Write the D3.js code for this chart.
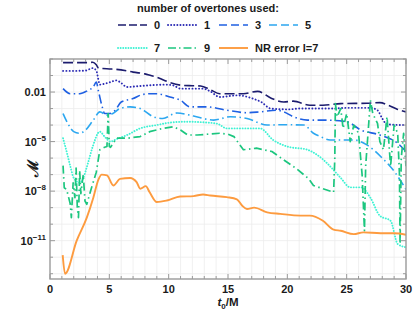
<!DOCTYPE html>
<html>
<head>
<meta charset="utf-8">
<script src="https://d3js.org/d3.v7.min.js"></script>
<style>
  body { margin: 0; background: #fff; }
  text { font-family: "Liberation Sans", Arial, sans-serif; font-weight: bold; fill: #1a1a1a; }
</style>
</head>
<body>
<svg id="chart" width="415" height="316"></svg>
<script>
// ---- data: [t0/M, mismatch] ----
var overtones0 = [[1.1,0.60],[2,0.60],[3,0.60],[3.6,0.63],[3.9,0.45],[4.1,0.28],[5,0.25],[5.5,0.24],[6.5,0.19],[7,0.16],[8,0.126],[8.5,0.10],[9,0.079],[9.5,0.056],[10,0.040],[11,0.026],[12,0.024],[12.7,0.023],[13.5,0.014],[14.3,7.9e-3],[15.2,7.9e-3],[16.3,7.9e-3],[17.5,1.1e-2],[18.6,4.4e-3],[19.7,2.5e-3],[20.5,2.8e-3],[21.9,1.6e-3],[23,1.6e-3],[24.5,2.0e-3],[26.7,2.1e-3],[27.8,2.3e-3],[28.5,1.6e-3],[29.3,8.9e-4],[30,6.3e-4]];
var overtones1 = [[1.1,0.19],[2,0.19],[3,0.20],[3.6,0.28],[3.9,0.20],[4.2,0.028],[4.6,0.032],[5.1,0.040],[5.6,0.051],[6,0.035],[6.5,0.020],[7.2,0.022],[8.2,0.025],[9.8,0.028],[10.4,0.025],[11,0.016],[12.9,0.016],[13.5,0.011],[14.3,5.0e-3],[15.8,6.3e-3],[17.1,4.0e-3],[17.8,2.5e-3],[18.6,1.0e-3],[20,8.9e-4],[21.1,1.0e-3],[23.6,1.0e-3],[25,1.1e-3],[27,1.1e-3],[27.6,7.9e-4],[28,2.5e-4],[28.4,1.1e-4],[30,1.0e-4]];
var overtones3 = [[1.1,0.016],[1.7,7.9e-3],[2.5,7.9e-3],[3.2,1.26e-2],[3.65,0.020],[3.9,0.040],[4.1,0.010],[4.4,1.26e-3],[4.6,5.0e-4],[5,5.0e-4],[5.5,7.9e-4],[6,2.5e-3],[7,4.0e-3],[7.8,7.1e-3],[8.4,7.9e-3],[9,7.9e-3],[10.1,5.0e-3],[11,3.2e-3],[11.8,1.26e-3],[13.2,1.26e-3],[14.9,7.9e-4],[16.6,5.6e-4],[17.7,6.3e-4],[19.1,7.9e-4],[19.7,6.3e-4],[20.5,3.2e-4],[21.7,2.0e-4],[23.1,2.0e-4],[25,1.6e-4],[26.2,5.0e-5],[27.8,2.5e-5],[29.3,7.9e-6],[30,2.5e-6]];
var overtones5 = [[1.1,5.0e-4],[1.5,1.26e-4],[2,4.0e-5],[2.5,3.2e-5],[3,5.0e-5],[3.65,2.0e-4],[4.2,6.3e-4],[4.8,4.0e-4],[5.3,5.0e-4],[5.9,1.0e-3],[6.75,1.26e-3],[7.6,1.0e-3],[8.7,3.2e-4],[9.5,2.5e-4],[10.7,5.4e-4],[12.1,3.5e-4],[13.8,2.0e-4],[15.2,3.2e-4],[16.6,2.5e-4],[18.3,1.0e-4],[19.7,1.05e-4],[21.4,1.0e-4],[22.2,3.2e-5],[22.8,2.0e-5],[23.6,1.26e-5],[25.6,1.26e-5],[26.7,6.3e-6],[28,1.0e-6],[29,1.6e-7],[30,1.26e-8]];
var overtones7 = [[1.1,1.6e-5],[1.4,2.5e-6],[1.7,3.5e-7],[2,6.3e-8],[2.5,3.2e-8],[2.8,6.3e-8],[3.2,5.0e-7],[3.6,5.0e-6],[4.2,4.0e-5],[4.6,2.0e-5],[5.1,1.0e-5],[5.6,1.4e-5],[6.5,2.5e-5],[7.6,6.3e-5],[9,1.0e-4],[10.1,1.4e-4],[11.5,1.6e-4],[12.7,1.5e-4],[14.1,1.2e-4],[14.9,6.3e-5],[16.6,6.3e-5],[17.7,6.3e-5],[18.8,1.26e-5],[20,5.0e-6],[21.7,3.2e-6],[22.5,1.6e-6],[23.4,4.5e-7],[24.5,6.3e-8],[25.3,1.7e-8],[26.2,1.7e-8],[27,4.0e-9],[27.8,3.2e-10],[28.7,1.6e-10],[29.3,6.3e-12],[30,4.0e-12]];
var overtones9 = [[1.1,3.5e-7],[1.2,1.6e-8],[1.4,1.26e-8],[1.7,1.8e-9],[1.8,2.5e-10],[1.95,3.2e-8],[2.1,4.0e-9],[2.2,2.5e-7],[2.3,1.0e-9],[2.4,2.5e-10],[2.5,1.8e-7],[2.6,7.1e-9],[2.8,1.0e-7],[2.95,2.5e-9],[3.1,1.6e-9],[3.5,1.6e-8],[3.9,1.4e-7],[4.2,3.2e-6],[4.6,4.5e-6],[4.8,5.0e-6],[4.9,5.0e-4],[5,5.0e-6],[5.1,4.5e-6],[5.6,1.6e-5],[6.5,1.6e-5],[7.6,2.0e-5],[8.4,4.0e-5],[9.5,6.3e-5],[10.4,7.9e-5],[11,5.0e-5],[11.6,2.5e-5],[12.4,2.5e-5],[14.3,3.2e-5],[15,2.8e-5],[15.5,2.0e-5],[15.9,7.9e-6],[16.3,3.2e-6],[17.4,4.0e-6],[18.7,2.5e-6],[19.4,1.1e-6],[20.8,2.2e-7],[21.8,5.6e-8],[22.2,2.2e-8],[23.9,8.5e-9],[24,1.0e-6],[24.05,2.0e-3],[24.2,3.2e-4],[24.5,1.0e-3],[24.7,6.3e-5],[25,5.0e-4],[25.3,1.0e-5],[25.6,1.0e-4],[26,3.2e-5],[26.3,1.0e-7],[26.5,4.0e-11],[26.6,3.2e-7],[26.8,3.2e-5],[27,3.2e-3],[27.2,5.0e-4],[27.6,1.26e-4],[27.8,1.0e-5],[28.1,3.2e-6],[28.4,3.2e-4],[28.7,3.2e-7],[29,1.0e-4],[29.3,3.2e-5],[29.45,1.0e-7],[29.5,6.3e-12],[29.6,1.0e-6],[29.8,3.2e-5],[30,3.2e-7]];
var nrError = [[1.07,1.35e-12],[1.27,1.0e-13],[2.25,1.0e-11],[3.1,2.5e-10],[3.65,4.0e-9],[4.08,5.0e-8],[4.36,1.0e-7],[4.8,8.9e-8],[5.34,2.2e-8],[5.9,5.5e-8],[6.75,6.3e-8],[7.3,3.5e-8],[7.6,1.4e-8],[8.07,2.0e-8],[8.4,8.5e-9],[9,2.2e-9],[9.85,2.7e-9],[10.97,4.7e-9],[12.1,5.0e-9],[12.9,6.3e-9],[13.5,5.4e-9],[14.9,4.3e-9],[15.75,3.2e-9],[16.2,1.3e-9],[16.6,8.3e-10],[17.2,1.0e-9],[18.3,5.2e-10],[19.4,4.2e-10],[21.1,3.3e-10],[21.9,3.3e-10],[23,1.6e-10],[23.9,4.7e-11],[24.5,4.0e-11],[25.6,2.5e-11],[26.4,3.2e-11],[27.85,2.8e-11],[29,2.8e-11],[30,2.3e-11]];

var legendLabels = ["0", "1", "3", "5", "7", "9", "NR error l=7"];
var xTicks = [0, 5, 10, 15, 20, 25, 30];
var yTickLabels = [[1e-2, "0.01"], [1e-5, "10", "\u22125"], [1e-8, "10", "\u22128"], [1e-11, "10", "\u221211"]];

/*
	Series styles
*/
var series = [
	{ data: overtones0, color: "#1c1c6e", dash: "10,4",          cap: "butt",  width: 1.6, curve: d3.curveMonotoneX, legend: "8,3" },
	{ data: overtones1, color: "#2a2ab4", dash: "0.1,3.2",       cap: "round", width: 1.9, curve: d3.curveMonotoneX, legend: "0.1,3" },
	{ data: overtones3, color: "#1f60e2", dash: "9,3.5,1.5,3.5", cap: "butt",  width: 1.6, curve: d3.curveMonotoneX, legend: "8,4" },
	{ data: overtones5, color: "#2ca7f0", dash: "9,3.5,1.5,3.5", cap: "butt",  width: 1.6, curve: d3.curveMonotoneX, legend: "8,4" },
	{ data: overtones7, color: "#3ff2d4", dash: "0.1,2.6",       cap: "round", width: 1.9, curve: d3.curveMonotoneX, legend: "0.1,2.5" },
	{ data: overtones9, color: "#1cc67f", dash: "8,3.5,1.5,3.5", cap: "butt",  width: 1.7, curve: d3.curveLinear,    legend: "8,3,1.5,3" },
	{ data: nrError,    color: "#fd9b3f", dash: null,            cap: "butt",  width: 1.9, curve: d3.curveMonotoneX, legend: null }
];

var svg = d3.select("#chart");
var plotL = 50, plotR = 406, plotT = 59, plotB = 279;

var x = d3.scaleLinear().domain([0, 30]).range([plotL, plotR]);
var y = d3.scaleLog().domain([Math.pow(10, -13.32), 1]).range([plotB, plotT]);

var decades = d3.range(-13, 1).map(function(e) { return Math.pow(10, e); });
var xMinor = d3.range(0, 31);

svg.append("defs").append("clipPath")
	.attr("id", "plotClip")
	.append("rect")
	.attr("x", plotL).attr("y", plotT)
	.attr("width", plotR - plotL).attr("height", plotB - plotT);

// grid
var grid = svg.append("g").attr("stroke", "#ececec").attr("stroke-width", 0.8);
grid.selectAll("line.vx")
	.data(xMinor.filter(function(d) { return d > 0 && d < 30; }))
	.enter().append("line")
	.attr("x1", function(d) { return x(d); }).attr("x2", function(d) { return x(d); })
	.attr("y1", plotT).attr("y2", plotB);
grid.selectAll("line.hy")
	.data(decades.filter(function(d) { return d < 1; }))
	.enter().append("line")
	.attr("y1", function(d) { return y(d); }).attr("y2", function(d) { return y(d); })
	.attr("x1", plotL).attr("x2", plotR);

// lines
var line = d3.line()
	.x(function(d) { return x(d[0]); })
	.y(function(d) { return y(d[1]); });

var plot = svg.append("g").attr("clip-path", "url(#plotClip)");
series.forEach(function(s) {
	plot.append("path")
		.datum(s.data)
		.attr("fill", "none")
		.attr("stroke", s.color)
		.attr("stroke-width", s.width)
		.attr("stroke-linecap", s.cap)
		.attr("stroke-linejoin", "round")
		.attr("stroke-dasharray", s.dash)
		.attr("d", line.curve(s.curve));
});

// frame and ticks (inward, all four sides)
var axisColor = "#9b9b9b";
var ticks = svg.append("g").attr("stroke", axisColor).attr("stroke-width", 1);
xMinor.forEach(function(d) {
	var len = d % 5 === 0 ? 5 : 3;
	ticks.append("line").attr("x1", x(d)).attr("x2", x(d)).attr("y1", plotB).attr("y2", plotB - len);
	ticks.append("line").attr("x1", x(d)).attr("x2", x(d)).attr("y1", plotT).attr("y2", plotT + len);
});
decades.forEach(function(d) {
	var e = Math.round(Math.log10(d));
	var len = (e === -2 || e === -5 || e === -8 || e === -11) ? 5 : 3;
	ticks.append("line").attr("y1", y(d)).attr("y2", y(d)).attr("x1", plotL).attr("x2", plotL + len);
	ticks.append("line").attr("y1", y(d)).attr("y2", y(d)).attr("x1", plotR).attr("x2", plotR - len);
});
svg.append("rect")
	.attr("x", plotL).attr("y", plotT)
	.attr("width", plotR - plotL).attr("height", plotB - plotT)
	.attr("fill", "none")
	.attr("stroke", axisColor)
	.attr("stroke-width", 1.4);

// tick labels
svg.append("g").selectAll("text")
	.data(xTicks)
	.enter().append("text")
	.attr("x", function(d) { return x(d); })
	.attr("y", 293)
	.attr("text-anchor", "middle")
	.attr("font-size", 11)
	.text(function(d) { return d; });

var yl = svg.append("g").selectAll("text")
	.data(yTickLabels)
	.enter().append("text")
	.attr("x", 46)
	.attr("y", function(d) { return y(d[0]) + 4; })
	.attr("text-anchor", "end")
	.attr("font-size", 11);
yl.append("tspan").text(function(d) { return d[1]; });
yl.filter(function(d) { return d.length > 2; })
	.append("tspan")
	.attr("dy", -5)
	.attr("font-size", 8)
	.text(function(d) { return d[2]; });

// axis titles
var xl = svg.append("text")
	.attr("x", 228).attr("y", 306)
	.attr("text-anchor", "middle")
	.attr("font-size", 11.5);
xl.append("tspan").attr("font-style", "italic").text("t");
xl.append("tspan").attr("font-size", 8).attr("dy", 3).text("0");
xl.append("tspan").attr("dy", -3).text("/M");

svg.append("text")
	.attr("transform", "translate(38,168) rotate(-90)")
	.attr("text-anchor", "middle")
	.attr("font-size", 15)
	.attr("font-weight", "normal")
	.attr("font-family", "DejaVu Serif")
	.text("\u2133");

// legend
svg.append("text")
	.attr("x", 208).attr("y", 12)
	.attr("text-anchor", "middle")
	.attr("font-size", 11)
	.text("number of overtones used:");

var legendPos = [[118, 25], [168, 25], [219, 25], [269, 25], [118, 48], [168, 48], [219, 48]];
series.forEach(function(s, i) {
	var p = legendPos[i];
	svg.append("line")
		.attr("x1", p[0]).attr("x2", p[0] + 29)
		.attr("y1", p[1]).attr("y2", p[1])
		.attr("stroke", s.color)
		.attr("stroke-width", s.width)
		.attr("stroke-linecap", s.cap)
		.attr("stroke-dasharray", s.legend);
	svg.append("text")
		.attr("x", p[0] + 36).attr("y", p[1] + 4)
		.attr("font-size", 11)
		.text(legendLabels[i]);
});
</script>
</body>
</html>
